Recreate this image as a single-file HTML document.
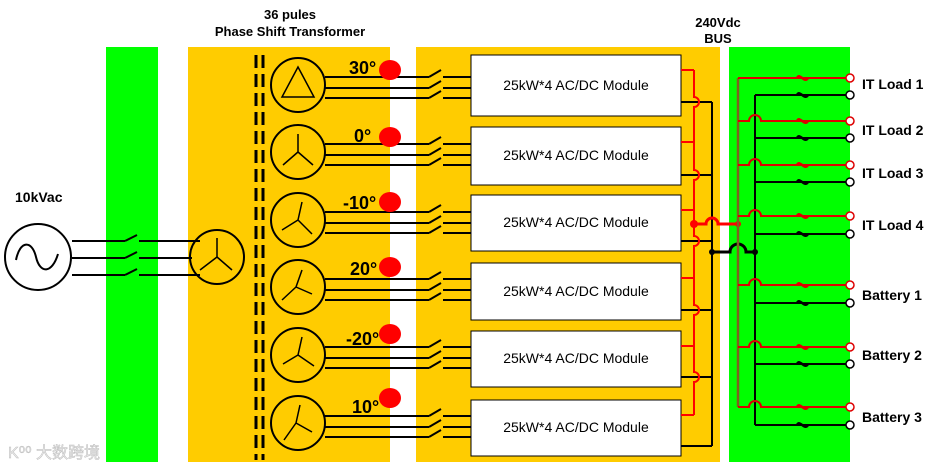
<!DOCTYPE html>
<html><head><meta charset="utf-8"><style>
html,body{margin:0;padding:0;background:#fff;width:931px;height:467px;overflow:hidden}
svg{display:block}
text{font-family:"Liberation Sans",Arial,sans-serif}
</style></head><body>
<svg width="931" height="467" viewBox="0 0 931 467" xmlns="http://www.w3.org/2000/svg">
<rect x="106" y="47" width="52" height="415" fill="#00ff00"/>
<rect x="188" y="47" width="202" height="415" fill="#ffcc00"/>
<rect x="416" y="47" width="304" height="415" fill="#ffcc00"/>
<rect x="729" y="47" width="121" height="415" fill="#00ff00"/>

<text x="290" y="19" font-size="13" font-weight="bold" text-anchor="middle">36 pules</text>
<text x="290" y="36" font-size="13" font-weight="bold" text-anchor="middle">Phase Shift Transformer</text>
<text x="718" y="27" font-size="13" font-weight="bold" text-anchor="middle">240Vdc</text>
<text x="718" y="43" font-size="13" font-weight="bold" text-anchor="middle">BUS</text>
<text x="15" y="202" font-size="14" font-weight="bold">10kVac</text>

<!-- source -->
<g fill="none" stroke="#000" stroke-width="2">
<circle cx="38" cy="257" r="33"/>
<path d="M16 260 C20 240 32 240 36 257 C40 274 52 274 58 254"/>
<path d="M72 241H125M139 241H200M125 241L137 235"/>
<path d="M72 258H125M139 258H192M125 258L137 252"/>
<path d="M72 275H125M139 275H200M125 275L137 269"/>
<circle cx="217" cy="257" r="27"/>
<path d="M217 257V238M217 257L200 270M217 257L232 270" stroke-width="1.5"/>
<line x1="256" y1="55" x2="256" y2="460" stroke-width="3" stroke-dasharray="13 6"/>
<line x1="263" y1="55" x2="263" y2="460" stroke-width="3" stroke-dasharray="13 6"/>
</g>

<!-- transformer rows -->
<g fill="none" stroke="#000" stroke-width="2">
<circle cx="298" cy="85" r="27"/><circle cx="298" cy="152" r="27"/><circle cx="298" cy="220" r="27"/>
<circle cx="298" cy="287" r="27"/><circle cx="298" cy="355" r="27"/><circle cx="298" cy="423" r="27"/>
<g stroke-width="1.5">
<path d="M298 67L282 97H314Z"/>
<path d="M298 152V134M298 152L283 165M298 152L313 165"/>
<path d="M298 220L302 202M298 220L282 230M298 220L312 234"/>
<path d="M296 287L302 270M296 287L312 294M296 287L282 300"/>
<path d="M298 355L302 337M298 355L283 364M298 355L314 366"/>
<path d="M296 423L300 405M296 423L312 432M296 423L284 440"/>
</g>
<path d="M325 77H429M443 77H471M429 77L441 70M325 88H429M443 88H471M429 88L441 81M325 98H429M443 98H471M429 98L441 91"/>
<path d="M325 144H429M443 144H471M429 144L441 137M325 155H429M443 155H471M429 155L441 148M325 165H429M443 165H471M429 165L441 158"/>
<path d="M325 212H429M443 212H471M429 212L441 205M325 223H429M443 223H471M429 223L441 216M325 233H429M443 233H471M429 233L441 226"/>
<path d="M325 279H429M443 279H471M429 279L441 272M325 290H429M443 290H471M429 290L441 283M325 300H429M443 300H471M429 300L441 293"/>
<path d="M325 347H429M443 347H471M429 347L441 340M325 358H429M443 358H471M429 358L441 351M325 368H429M443 368H471M429 368L441 361"/>
<path d="M325 416H429M443 416H471M429 416L441 409M325 427H429M443 427H471M429 427L441 420M325 437H429M443 437H471M429 437L441 430"/>
</g>
<g font-size="18" font-weight="bold">
<text x="349" y="74">30°</text><text x="354" y="142">0°</text><text x="343" y="209">-10°</text>
<text x="350" y="275">20°</text><text x="346" y="345">-20°</text><text x="352" y="413">10°</text>
</g>
<g fill="#f00">
<ellipse cx="390" cy="70" rx="11" ry="10"/><ellipse cx="390" cy="137" rx="11" ry="10"/><ellipse cx="390" cy="202" rx="11" ry="10"/>
<ellipse cx="390" cy="267" rx="11" ry="10"/><ellipse cx="390" cy="334" rx="11" ry="10"/><ellipse cx="390" cy="398" rx="11" ry="10"/>
</g>

<!-- modules -->
<g fill="#fff" stroke="#000" stroke-width="1">
<rect x="471" y="55" width="210" height="61"/><rect x="471" y="127" width="210" height="58"/>
<rect x="471" y="195" width="210" height="56"/><rect x="471" y="263" width="210" height="57"/>
<rect x="471" y="331" width="210" height="56"/><rect x="471" y="400" width="210" height="56"/>
</g>
<g font-size="14" text-anchor="middle">
<text x="576" y="90">25kW*4 AC/DC Module</text><text x="576" y="160">25kW*4 AC/DC Module</text>
<text x="576" y="227">25kW*4 AC/DC Module</text><text x="576" y="296">25kW*4 AC/DC Module</text>
<text x="576" y="363">25kW*4 AC/DC Module</text><text x="576" y="432">25kW*4 AC/DC Module</text>
</g>

<!-- DC bus -->
<g fill="none" stroke="#000" stroke-width="2">
<path d="M681 102H712M681 175H712M681 241H712M681 310H712M681 377H712M681 446H712M712 102V446"/>
<path d="M712 252H730a8 8 0 0 1 16 0H755" stroke-width="3"/>
<path d="M755 95V425"/>
</g>
<g fill="none" stroke="#f00" stroke-width="2">
<path d="M681 70H694M681 142H694M681 210H694M681 278H694M681 346H694M681 415H694"/>
<path d="M694 70V97a5 5 0 0 1 0 10V170a5 5 0 0 1 0 10V236a5 5 0 0 1 0 10V305a5 5 0 0 1 0 10V372a5 5 0 0 1 0 10V415"/>
<path d="M694 224H706a6 6 0 0 1 12 0H738" stroke-width="3"/>
</g>
<g fill="#f00"><circle cx="694" cy="224" r="4"/><circle cx="738" cy="224" r="3"/></g>
<g fill="#000"><circle cx="712" cy="252" r="3"/><circle cx="755" cy="252" r="3"/></g>
<path d="M738 78V407" stroke="#806020" stroke-width="2.5" fill="none"/>

<!-- loads -->
<g fill="none" stroke-width="2">
<g stroke="#d00">
<path d="M738 78H846"/>
<path d="M738 121H749a6 6 0 0 1 12 0H846"/>
<path d="M738 165H749a6 6 0 0 1 12 0H846"/>
<path d="M738 216H749a6 6 0 0 1 12 0H846"/>
<path d="M738 285H749a6 6 0 0 1 12 0H846"/>
<path d="M738 347H749a6 6 0 0 1 12 0H846"/>
<path d="M738 407H749a6 6 0 0 1 12 0H846"/>
</g>
<path d="M755 95H846M755 138H846M755 182H846M755 234H846M755 303H846M755 364H846M755 425H846" stroke="#000"/>
</g>
<g fill="#fff" stroke-width="1.5">
<g stroke="#d00">
<circle cx="850" cy="78" r="4"/><circle cx="850" cy="121" r="4"/><circle cx="850" cy="165" r="4"/><circle cx="850" cy="216" r="4"/>
<circle cx="850" cy="285" r="4"/><circle cx="850" cy="347" r="4"/><circle cx="850" cy="407" r="4"/>
</g>
<g stroke="#000">
<circle cx="850" cy="95" r="4"/><circle cx="850" cy="138" r="4"/><circle cx="850" cy="182" r="4"/><circle cx="850" cy="234" r="4"/>
<circle cx="850" cy="303" r="4"/><circle cx="850" cy="364" r="4"/><circle cx="850" cy="425" r="4"/>
</g>
</g>
<g fill="none" stroke-width="2.5">
<g stroke="#d00">
<path d="M797 78c3-6 7 6 11 0M797 121c3-6 7 6 11 0M797 165c3-6 7 6 11 0M797 216c3-6 7 6 11 0M797 285c3-6 7 6 11 0M797 347c3-6 7 6 11 0M797 407c3-6 7 6 11 0"/>
</g>
<path stroke="#000" d="M797 95c3-6 7 6 11 0M797 138c3-6 7 6 11 0M797 182c3-6 7 6 11 0M797 234c3-6 7 6 11 0M797 303c3-6 7 6 11 0M797 364c3-6 7 6 11 0M797 425c3-6 7 6 11 0"/>
</g>
<g font-size="14" font-weight="bold">
<text x="862" y="89">IT Load 1</text><text x="862" y="135">IT Load 2</text>
<text x="862" y="178">IT Load 3</text><text x="862" y="230">IT Load 4</text>
<text x="862" y="300">Battery 1</text><text x="862" y="360">Battery 2</text>
<text x="862" y="422">Battery 3</text>
</g>
<text x="8" y="458" font-size="16" fill="#eee" stroke="#bbb" stroke-width="0.5" font-family="Liberation Sans,Noto Sans CJK SC,sans-serif">K⁰⁰ 大数跨境</text>
</svg>
</body></html>
